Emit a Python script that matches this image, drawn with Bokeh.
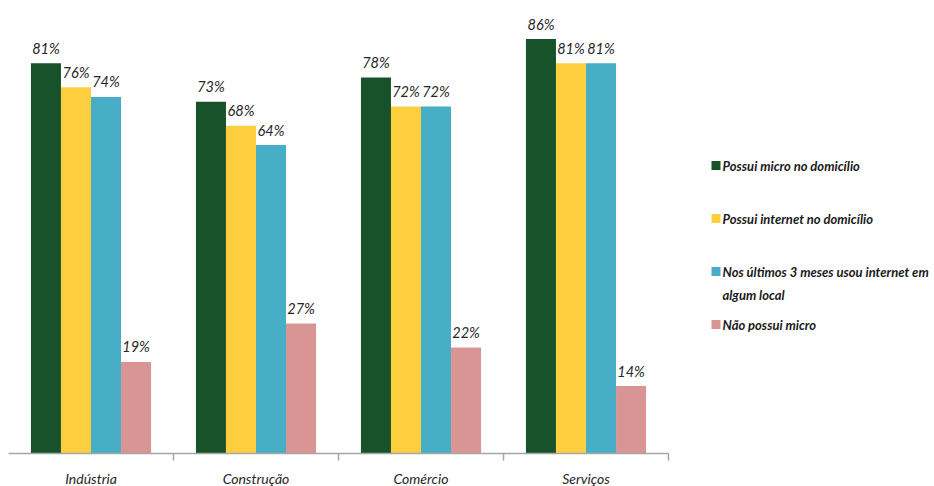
from bokeh.plotting import figure
from bokeh.models import FixedTicker, Range1d, ColumnDataSource
from bokeh.layouts import row
from bokeh.core.properties import value
from bokeh.embed import file_html
from bokeh.resources import INLINE

# Sectors and the four indicators (percent of workers)
categories = ["Indústria", "Construção", "Comércio", "Serviços"]
series_labels = [
    "Possui micro no domicílio",
    "Possui internet no domicílio",
    "Nos últimos 3 meses usou internet em\nalgum local",
    "Não possui micro",
]
possui_micro = [81, 73, 78, 86]
possui_internet = [76, 68, 72, 81]
usou_internet = [74, 64, 72, 81]
nao_possui_micro = [19, 27, 22, 14]

series = [possui_micro, possui_internet, usou_internet, nao_possui_micro]
colors = ["#17522a", "#fdcf3f", "#48adc7", "#d99594"]

FONT = "Lato"
TEXT_COLOR = "#262626"
AXIS_COLOR = "#a6a6a6"

bar_w = 0.182
n_groups = len(categories)

p = figure(
    frame_width=660, frame_height=453,
    x_range=Range1d(0, n_groups), y_range=Range1d(0, 94),
    output_backend="svg", toolbar_location=None,
    y_axis_location=None,
    min_border_left=8, min_border_right=12,
    min_border_top=0, min_border_bottom=33,
)
p.outline_line_color = None
p.xgrid.visible = False
p.ygrid.visible = False

for k, (vals, col) in enumerate(zip(series, colors)):
    xs = [i + 0.5 + (k - 1.5) * bar_w for i in range(n_groups)]
    src = ColumnDataSource(dict(x=xs, top=vals, label=[f"{v}%" for v in vals]))
    p.vbar(x="x", top="top", bottom=0, width=bar_w, source=src,
           fill_color=col, line_color=None)
    p.text(x="x", y="top", text="label", source=src,
           text_align="center", text_baseline="alphabetic", y_offset=-15,
           text_font=value(FONT), text_font_size="14.5px",
           text_font_style="italic", text_color=TEXT_COLOR)

ax = p.xaxis[0]
ax.ticker = FixedTicker(ticks=[i + 0.5 for i in range(n_groups)],
                        minor_ticks=[i + 1 for i in range(n_groups)])
ax.major_label_overrides = {i + 0.5: c for i, c in enumerate(categories)}
ax.axis_line_color = AXIS_COLOR
ax.axis_line_width = 1.5
ax.major_tick_line_color = None
ax.major_tick_out = 0
ax.major_tick_in = 0
ax.minor_tick_line_color = AXIS_COLOR
ax.minor_tick_line_width = 1.5
ax.minor_tick_in = 0
ax.minor_tick_out = 7
ax.major_label_standoff = 9
ax.major_label_text_font = FONT
ax.major_label_text_font_size = "14px"
ax.major_label_text_font_style = "italic"
ax.major_label_text_color = TEXT_COLOR

# Legend panel drawn in pixel-like coordinates
leg = figure(
    frame_width=254, frame_height=486,
    x_range=Range1d(0, 254), y_range=Range1d(486, 0),
    output_backend="svg", toolbar_location=None,
    x_axis_location=None, y_axis_location=None,
    min_border_left=0, min_border_right=0,
    min_border_top=0, min_border_bottom=0,
)
leg.outline_line_color = None
leg.grid.visible = False

row_y0, row_step, line_step = 165, 53, 23
for k, (lab, col) in enumerate(zip(series_labels, colors)):
    y = row_y0 + k * row_step
    leg.rect(x=[35.5], y=[y], width=9, height=9, fill_color=col, line_color=None)
    lines = lab.split("\n")
    leg.text(x=[42] * len(lines), y=[y + j * line_step for j in range(len(lines))],
             text=lines, text_align="left", text_baseline="middle",
             text_font=value(FONT), text_font_size="13px",
             text_font_style="bold italic", text_color="#1a1a1a")

layout = row(p, leg)
open("out.html", "w").write(file_html(layout, INLINE))
